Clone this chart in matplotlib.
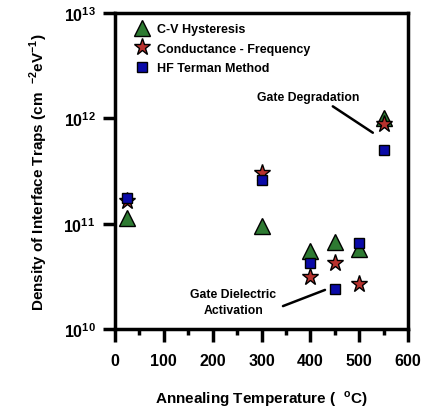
import matplotlib
matplotlib.use("Agg")
import matplotlib.pyplot as plt

plt.rcParams['font.family'] = ['Liberation Sans', 'DejaVu Sans']
plt.rcParams['font.weight'] = 'bold'
plt.rcParams['mathtext.fontset'] = 'custom'
plt.rcParams['mathtext.rm'] = 'Liberation Sans:bold'
plt.rcParams['mathtext.bf'] = 'Liberation Sans:bold'

temp_cv = [25, 300, 400, 450, 500, 550]
cv_hyst = [1.12e11, 9.5e10, 5.5e10, 6.7e10, 5.8e10, 1.0e12]
temp_gf = [25, 300, 400, 450, 500, 550]
cond_freq = [1.65e11, 3.0e11, 3.1e10, 4.2e10, 2.7e10, 8.8e11]
temp_hf = [25, 300, 400, 450, 500, 550]
hf_terman = [1.75e11, 2.6e11, 4.2e10, 2.4e10, 6.5e10, 5.0e11]

fig = plt.figure(figsize=(4.26, 4.10), dpi=100)
ax = fig.add_axes([115/426, 80/410, 293/426, 316/410])

ax.plot(temp_cv, cv_hyst, linestyle='none', marker='^', markersize=11,
        markerfacecolor='#2e7a32', markeredgecolor='black', markeredgewidth=1.0,
        label='C-V Hysteresis')
ax.plot(temp_gf, cond_freq, linestyle='none', marker='*', markersize=12.5,
        markerfacecolor='#b8322e', markeredgecolor='black', markeredgewidth=1.0,
        label='Conductance - Frequency')
ax.plot(temp_hf, hf_terman, linestyle='none', marker='s', markersize=7,
        markerfacecolor='#0a0aa8', markeredgecolor='black', markeredgewidth=1.0,
        label='HF Terman Method')

ax.set_yscale('log')
ax.set_xlim(0, 600)
ax.set_ylim(1e10, 1e13)
ax.set_xticks([0, 100, 200, 300, 400, 500, 600])
ax.set_xticks([50, 150, 250, 350, 450, 550], minor=True)
ax.set_yticks([1e10, 1e11, 1e12, 1e13])
ax.yaxis.set_minor_locator(matplotlib.ticker.NullLocator())
ax.set_yticklabels([r'$\mathrm{10^{10}}$', r'$\mathrm{10^{11}}$',
                    r'$\mathrm{10^{12}}$', r'$\mathrm{10^{13}}$'])

ax.tick_params(axis='both', which='major', direction='out', length=9, width=2.5,
               labelsize=11.5)
ax.tick_params(axis='x', which='major', pad=8)
ax.tick_params(axis='y', which='major', pad=5)
ax.tick_params(axis='x', which='minor', direction='out', length=4.5, width=2.5)
for s in ax.spines.values():
    s.set_linewidth(2.5)

ax.set_xlabel('Annealing Temperature (  $^{\\mathrm{o}}$C)', fontsize=11, labelpad=15,
              fontweight='bold')
ax.set_ylabel('Density of Interface Traps (cm  $^{\\mathrm{-2}}$eV$^{\\mathrm{-1}}$)',
              fontsize=11, labelpad=10, fontweight='bold')

leg = ax.legend(loc='upper left', bbox_to_anchor=(0.035, 0.99), frameon=False,
                prop={'size': 9, 'weight': 'bold'},
                handletextpad=0.45, borderaxespad=0.2, borderpad=0.35,
                labelspacing=0.6, handlelength=1.5)

ax.text(395, 1.6e12, 'Gate Degradation', fontsize=8.8, ha='center', va='center',
        fontweight='bold')
ax.annotate('', xy=(528, 7.3e11), xytext=(446, 1.3e12),
            arrowprops=dict(arrowstyle='-', color='black', lw=1.8,
                            shrinkA=0, shrinkB=0))
ax.text(242, 1.82e10, 'Gate Dielectric\nActivation', fontsize=8.8, ha='center',
        va='center', linespacing=1.45, fontweight='bold')
ax.annotate('', xy=(430, 2.35e10), xytext=(344, 1.65e10),
            arrowprops=dict(arrowstyle='-', color='black', lw=1.8,
                            shrinkA=0, shrinkB=0))

fig.savefig('out.png', dpi=100)
